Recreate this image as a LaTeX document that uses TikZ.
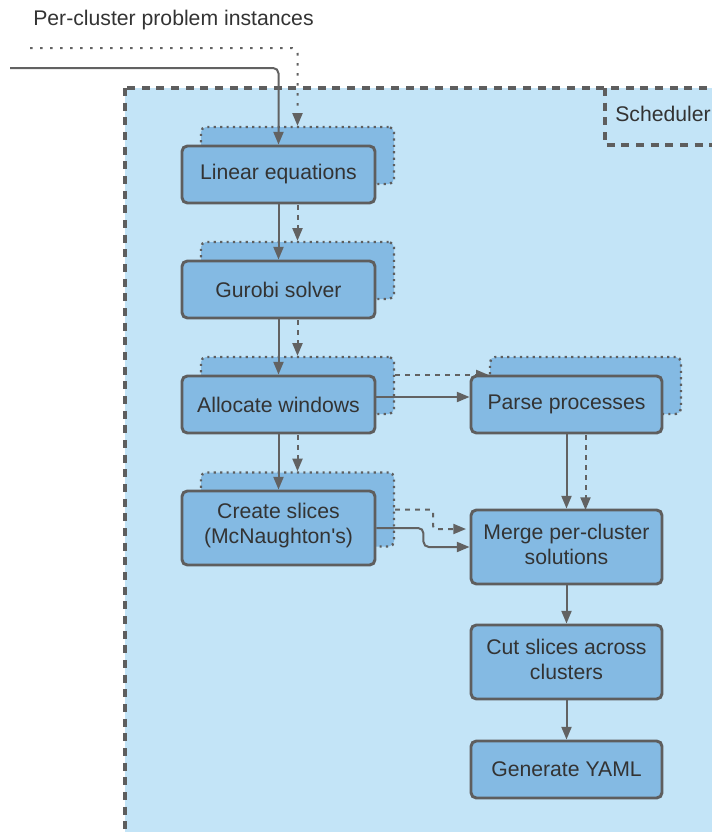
\documentclass[tikz,border=0pt]{standalone}
\usepackage{fontspec}
\setmainfont{Liberation Sans}
\usetikzlibrary{arrows.meta,calc}
\definecolor{panel}{HTML}{C3E4F7}
\definecolor{boxfill}{HTML}{84BAE3}
\definecolor{edge}{HTML}{5E5E5E}
\definecolor{ink}{HTML}{333333}
\definecolor{wire}{HTML}{626262}
\newcommand{\twolines}[2]{\parbox{140pt}{\centering #1\\#2\par\vspace*{4pt}}}
\tikzset{
  txt/.style={font=\fontsize{15.9pt}{18.75pt}\selectfont, text=ink},
  stage/.style={txt, draw=edge, fill=boxfill, line width=2.2pt,
    rounded corners=4pt, align=center, inner sep=0pt},
  ghost/.style={draw=edge, fill=boxfill, line width=1.8pt,
    rounded corners=4pt, inner sep=0pt,
    dash pattern=on 1.6pt off 3.2pt},
  narrow/.style={minimum width=144.75pt},
  wide/.style={minimum width=143.25pt},
  short/.style={minimum height=42.75pt},
  tall/.style={minimum height=55.5pt},
  conn/.style={draw=wire, line width=1.5pt, rounded corners=4pt,
    -{Triangle[length=9.5pt,width=7.5pt]}},
  dconn/.style={conn, dash pattern=on 3.5pt off 4pt},
  feed/.style={conn, dash pattern=on 2pt off 5.5pt},
  frame/.style={draw=edge, line width=2.6pt, dash pattern=on 6pt off 5pt},
}
\begin{document}
\begin{tikzpicture}[x=0.75pt,y=-0.75pt]
\useasboundingbox (0,0) rectangle (712,832);
\clip (0,0) rectangle (712,832);

% scheduler region and its tab
\path[frame, fill=panel] (125,88) rectangle (720,840);
\path[frame] (605,88) -- (605,145) -- (720,145);
\node[txt, anchor=west, inner sep=0pt] (schedlbl) at (615,114) {Scheduler};

\node[txt, anchor=west, inner sep=0pt] (inlbl) at (33,20.5) {Per-cluster problem instances};
\coordinate (insolid) at (10,68);
\coordinate (indot) at (30,48);

% per-cluster copies behind the stages
\node[ghost, narrow, short] (linS) at (297.5,155.5) {};
\node[ghost, narrow, short] (gurS) at (297.5,270.5) {};
\node[ghost, narrow, short] (allocS) at (297.5,385.5) {};
\node[ghost, narrow, tall] (createS) at (297.5,509.5) {};
\node[ghost, wide, short] (parseS) at (585.5,385.5) {};

% per-cluster flows
\draw[feed] (indot) -| (linS.north);
\draw[dconn] (linS.south) -- (gurS.north);
\draw[dconn] (gurS.south) -- (allocS.north);
\draw[dconn] (allocS.south) -- (createS.north);
\draw[dconn] ([yshift=7.875pt]allocS.east) -- ([yshift=7.875pt]parseS.west);
\draw[dconn] (parseS.south) -- (parseS.south |- 0,510);
\draw[dconn, rounded corners=2pt] (createS.east) -- ++(38,0) |- ([yshift=13.5pt]466,547);

% stages
\node[stage, narrow, short] (lin) at (278.5,174.5) {Linear equations};
\node[stage, narrow, short] (gur) at (278.5,289.5) {Gurobi solver};
\node[stage, narrow, short] (alloc) at (278.5,404.5) {Allocate windows};
\node[stage, narrow, tall] (create) at (278.5,528) {\twolines{Create slices}{(McNaughton\textquotesingle s)}};
\node[stage, wide, short] (parse) at (566.5,404.5) {Parse processes};
\node[stage, wide, tall] (merge) at (566.5,547) {\twolines{Merge per-cluster}{solutions}};
\node[stage, wide, tall] (cut) at (566.5,662) {\twolines{Cut slices across}{clusters}};
\node[stage, wide, short] (yaml) at (566.5,769.5) {Generate YAML};

% main flow
\draw[conn] (insolid) -| (lin.north);
\draw[conn] (lin.south) -- (gur.north);
\draw[conn] (gur.south) -- (alloc.north);
\draw[conn] (alloc.south) -- (create.north);
\draw[conn] ([yshift=5.625pt]alloc.east) -- ([yshift=5.625pt]parse.west);
\draw[conn] (parse.south) -- (merge.north);
\draw[conn] (create.east) -- ++(47,0) |- (merge.west);
\draw[conn] (merge.south) -- (cut.north);
\draw[conn] (cut.south) -- (yaml.north);
\end{tikzpicture}
\end{document}
